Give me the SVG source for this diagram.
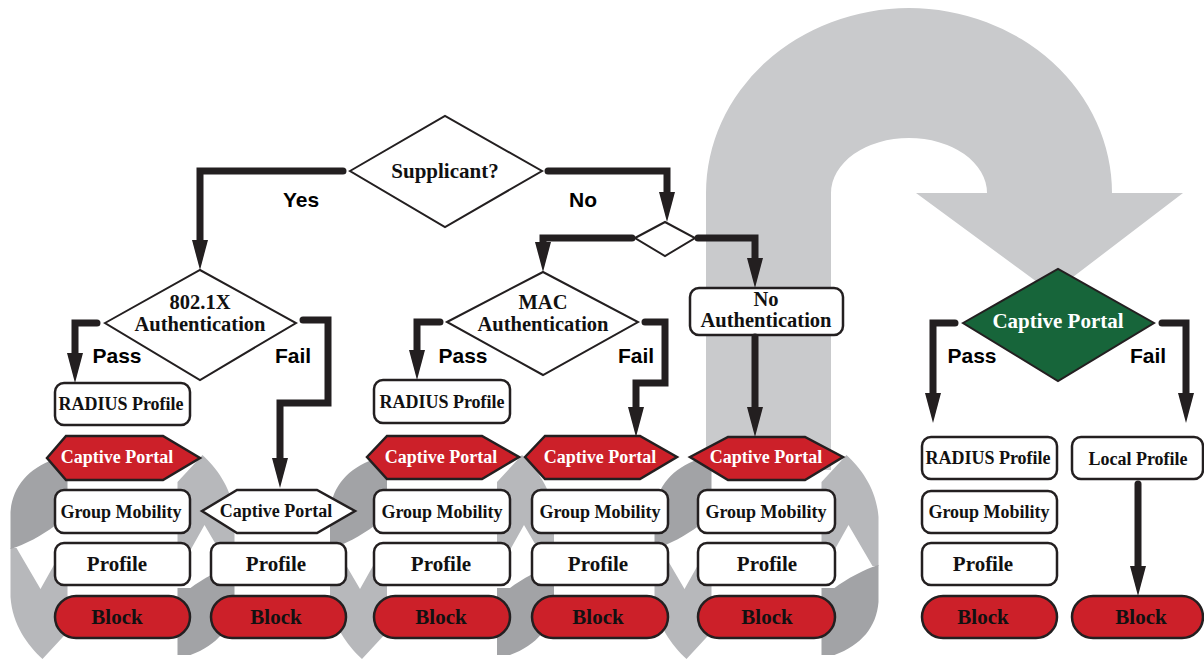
<svg xmlns="http://www.w3.org/2000/svg" xmlns:xlink="http://www.w3.org/1999/xlink" width="1204" height="661" viewBox="0 0 1204 661">
<style>
.box{fill:#fff;stroke:#231f20;stroke-width:2.5}
.red{fill:#cc2029;stroke:#231f20;stroke-width:2.5}
.dia{fill:#fff;stroke:#231f20;stroke-width:2}
.green{fill:#17653a;stroke:#231f20;stroke-width:2}
.t{font-family:"Liberation Serif","Times New Roman",serif;font-weight:bold;text-anchor:middle;fill:#111}
.w{fill:#fff}
.s18{font-size:18px}
.s21{font-size:21px}
.s20{font-size:20.5px}
.lbl{font-family:"Liberation Sans",Arial,sans-serif;font-weight:bold;font-size:21px;text-anchor:middle;fill:#000}
.conn{fill:none;stroke:#231f20;stroke-width:7;stroke-linecap:round;stroke-linejoin:miter;marker-end:url(#ah)}
.light{fill:#b7b8bb}
.dark{fill:#a2a3a6}
.big{fill:#c9cacc}
</style>
<defs>
<marker id="ah" markerUnits="userSpaceOnUse" markerWidth="30" markerHeight="16" viewBox="0 0 30 16" refX="8" refY="8" orient="auto">
<path d="M0,0 L30,8 L0,16 Z" fill="#231f20"/>
</marker>
<g id="swirlHalf">
<path class="light" d="M55,-75 L80,-102 C95,-88 110,-68 112,-40 L112,9 L106,9 L82,-32 L68,-7 L55,-7 Z"/>
<path class="dark" d="M55,31 L68,31 C80,22 98,12 112,8 L112,45 C110,70 95,88 68,98 L55,98 Z"/>
</g>
</defs>

<g id="bigArrow">
<path class="big" d="M706,470 L706,193 A203,185 0 0 1 1112,193 L1183,193 L1052,293 L916,193 L987,193 A78,55 0 0 0 831,193 L831,470 Z"/>
</g>

<g id="swirls">
<use xlink:href="#swirlHalf" href="#swirlHalf" transform="translate(122.5,557) rotate(180)"/>
<use xlink:href="#swirlHalf" href="#swirlHalf" transform="translate(122.5,557)"/>
<use xlink:href="#swirlHalf" href="#swirlHalf" transform="translate(442,557) rotate(180)"/>
<use xlink:href="#swirlHalf" href="#swirlHalf" transform="translate(442,557)"/>
<use xlink:href="#swirlHalf" href="#swirlHalf" transform="translate(766.5,557) rotate(180)"/>
<use xlink:href="#swirlHalf" href="#swirlHalf" transform="translate(766.5,557)"/>
</g>

<g id="supplicant">
<polygon class="dia" points="350,171 445,116 542,171 445,227"/>
<text class="t s21" x="445" y="178">Supplicant?</text>
</g>
<g id="split">
<polygon class="dia" points="635,238 665,222 695,238 665,256"/>
</g>
<g id="dot1x">
<polygon class="dia" points="105,323 200,270 296,323 200,380"/>
<text class="t s20" x="200" y="309">802.1X</text>
<text class="t s20" x="200" y="331">Authentication</text>
</g>
<g id="mac">
<polygon class="dia" points="447,322 543,272 638,322 543,375"/>
<text class="t s20" x="543" y="309">MAC</text>
<text class="t s20" x="543" y="331">Authentication</text>
</g>
<g id="noAuth">
<rect class="box" x="690" y="288" width="153" height="47" rx="9"/>
<text class="t s20" x="766" y="306">No</text>
<text class="t s20" x="766" y="327">Authentication</text>
</g>
<g id="cpDecision">
<polygon class="green" points="963,323 1058,269 1154,323 1058,381"/>
<text class="t s21 w" x="1058" y="328">Captive Portal</text>
</g>

<g id="col1">
<rect class="box" x="55" y="383" width="135" height="42" rx="9"/>
<text class="t s18" x="121" y="410">RADIUS Profile</text>
<polygon class="red" points="47,458 66,436 163,436 200,458 163,480 66,480"/>
<text class="t s18 w" x="117" y="463">Captive Portal</text>
<rect class="box" x="55" y="490" width="135" height="43" rx="9"/>
<text class="t s18" x="121" y="518">Group Mobility</text>
<rect class="box" x="55" y="543" width="135" height="42" rx="9"/>
<text class="t s21" x="117" y="571">Profile</text>
<rect class="red" x="55" y="596" width="135" height="42" rx="21"/>
<text class="t s21" x="117" y="624">Block</text>
</g>

<g id="col2">
<polygon class="box" points="202,511 237,490 317,490 355,511 317,533 237,533"/>
<text class="t s18" x="276" y="517">Captive Portal</text>
<rect class="box" x="211" y="543" width="135" height="42" rx="9"/>
<text class="t s21" x="276" y="571">Profile</text>
<rect class="red" x="211" y="596" width="135" height="42" rx="21"/>
<text class="t s21" x="276" y="624">Block</text>
</g>

<g id="col3">
<rect class="box" x="374" y="380" width="136" height="43" rx="9"/>
<text class="t s18" x="442" y="408">RADIUS Profile</text>
<polygon class="red" points="367,457 387,436 482,436 519,457 482,479 387,479"/>
<text class="t s18 w" x="441" y="463">Captive Portal</text>
<rect class="box" x="374" y="490" width="136" height="43" rx="9"/>
<text class="t s18" x="442" y="518">Group Mobility</text>
<rect class="box" x="374" y="543" width="136" height="42" rx="9"/>
<text class="t s21" x="441" y="571">Profile</text>
<rect class="red" x="374" y="596" width="136" height="42" rx="21"/>
<text class="t s21" x="441" y="624">Block</text>
</g>

<g id="col4">
<polygon class="red" points="525,457 545,436 640,436 677,457 640,479 545,479"/>
<text class="t s18 w" x="600" y="463">Captive Portal</text>
<rect class="box" x="532" y="490" width="136" height="43" rx="9"/>
<text class="t s18" x="600" y="518">Group Mobility</text>
<rect class="box" x="532" y="543" width="136" height="42" rx="9"/>
<text class="t s21" x="598" y="571">Profile</text>
<rect class="red" x="532" y="596" width="136" height="42" rx="21"/>
<text class="t s21" x="598" y="624">Block</text>
</g>

<g id="col5">
<polygon class="red" points="690,457 728,437 805,437 843,457 805,480 728,480"/>
<text class="t s18 w" x="766" y="463">Captive Portal</text>
<rect class="box" x="698" y="490" width="137" height="43" rx="9"/>
<text class="t s18" x="766" y="518">Group Mobility</text>
<rect class="box" x="698" y="543" width="137" height="42" rx="9"/>
<text class="t s21" x="767" y="571">Profile</text>
<rect class="red" x="698" y="596" width="137" height="42" rx="21"/>
<text class="t s21" x="767" y="624">Block</text>
</g>

<g id="col6">
<rect class="box" x="922" y="437" width="135" height="42" rx="9"/>
<text class="t s18" x="988" y="464">RADIUS Profile</text>
<rect class="box" x="922" y="491" width="135" height="42" rx="9"/>
<text class="t s18" x="989" y="518">Group Mobility</text>
<rect class="box" x="922" y="543" width="135" height="42" rx="9"/>
<text class="t s21" x="983" y="571">Profile</text>
<rect class="red" x="922" y="596" width="135" height="42" rx="21"/>
<text class="t s21" x="983" y="624">Block</text>
</g>

<g id="col7">
<rect class="box" x="1072" y="437" width="131" height="42" rx="9"/>
<text class="t s18" x="1138" y="465">Local Profile</text>
<rect class="red" x="1072" y="596" width="131" height="42" rx="21"/>
<text class="t s21" x="1141" y="624">Block</text>
</g>

<g id="connectors">
<path class="conn" d="M343,171 L200,171 L200,248"/>
<path class="conn" d="M548,171 L667,171 L667,200"/>
<path class="conn" d="M632,238 L543,238 L543,250"/>
<path class="conn" d="M698,238 L755,238 L755,266"/>
<path class="conn" d="M755,337 L755,415"/>
<path class="conn" d="M97,323 L75,323 L75,361"/>
<path class="conn" d="M303,320 L328,320 L328,403 L280,403 L280,466"/>
<path class="conn" d="M440,322 L417,322 L417,358"/>
<path class="conn" d="M645,322 L665,322 L665,383 L636,383 L636,415"/>
<path class="conn" d="M955,323 L933,323 L933,401"/>
<path class="conn" d="M1162,323 L1186,323 L1186,401"/>
<path class="conn" d="M1138,484 L1138,574"/>
<text class="lbl" x="301" y="207">Yes</text>
<text class="lbl" x="583" y="207">No</text>
<text class="lbl" x="117" y="363">Pass</text>
<text class="lbl" x="293" y="363">Fail</text>
<text class="lbl" x="463" y="363">Pass</text>
<text class="lbl" x="636" y="363">Fail</text>
<text class="lbl" x="972" y="363">Pass</text>
<text class="lbl" x="1148" y="363">Fail</text>
</g>
</svg>
